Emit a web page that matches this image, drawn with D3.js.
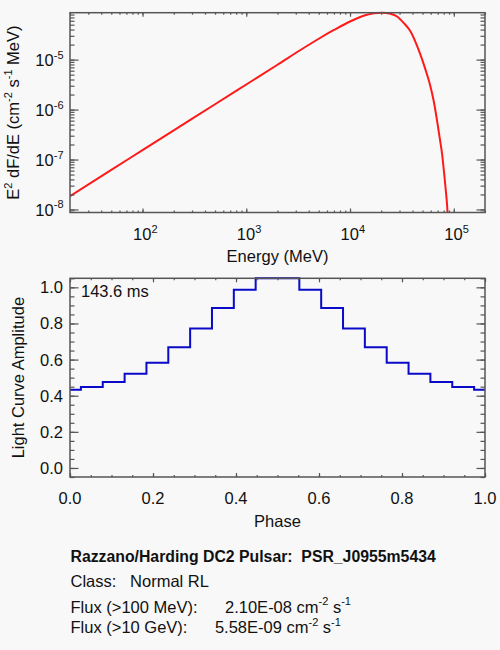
<!DOCTYPE html>
<html>
<meta charset="utf-8">
<head>
    <title>PSR_J0955m5434</title>
    <style>
    body {
        margin: 0;
        background: #f8f8f8;
    }
    svg {
        display: block;
        font-family: "Liberation Sans", Arial, Helvetica, sans-serif;
    }
    text {
        fill: #111;
    }
    </style>
<script src="https://d3js.org/d3.v7.min.js"></script>
</head>
<body>
<svg></svg>
<script>

// spectrum
var energy = [20, 50, 100, 200, 500, 1000, 2000, 3300, 5000, 7000, 10000, 14600, 17000, 20400,
              24000, 28400, 33000, 38200, 43000, 47700, 53000, 59600, 64000, 69200, 73000, 77300,
              81000, 84500, 86300, 88000];
var flux = [1.85e-8, 6.2e-8, 1.54e-7, 3.83e-7, 1.28e-6, 3.18e-6, 7.9e-6, 1.54e-5, 2.62e-5, 3.92e-5,
            5.8e-5, 7.9e-5, 8.5e-5, 8.7e-5, 8.4e-5, 7.3e-5, 5.4e-5, 3.7e-5, 2.2e-5, 1.26e-5,
            6.6e-6, 2.9e-6, 1.5e-6, 5.8e-7, 2.8e-7, 1.26e-7, 5e-8, 2e-8, 1.2e-8, 6e-9];

// light curve, bin centres and amplitudes
var phase = [0, 0.0526, 0.1053, 0.1579, 0.2105, 0.2632, 0.3158, 0.3684, 0.4211, 0.4737,
             0.5263, 0.5789, 0.6316, 0.6842, 0.7368, 0.7895, 0.8421, 0.8947, 0.9474, 1.0];
var amplitude = [0.433, 0.448, 0.476, 0.522, 0.583, 0.668, 0.772, 0.885, 0.987, 1.05,
                 1.05, 0.987, 0.885, 0.772, 0.668, 0.583, 0.522, 0.476, 0.448, 0.433];

var energyTicks = [100, 1000, 10000, 100000];
var fluxTicks = [1e-8, 1e-7, 1e-6, 1e-5];
var phaseTicks = [0, 0.2, 0.4, 0.6, 0.8, 1.0];
var ampTicks = [0, 0.2, 0.4, 0.6, 0.8, 1.0];

var infoLines = [
    "Class:   Normal RL",
    "Flux (>100 MeV):      2.10E-08 cm|-2| s|-1",
    "Flux (>10 GeV):      5.58E-09 cm|-2| s|-1"
];
var infoTitle = "Razzano/Harding DC2 Pulsar:  PSR_J0955m5434";

var width = 500, height = 650;
var axisColor = "#555";
var fs = 16.5, sup = 11;

var svg = d3.select("svg")
    .attr("width", width)
    .attr("height", height);

// draws inward ticks on one side of a frame
function side(g, axisFn, scale, majors, minors, majLen, minLen) {
    g.call(axisFn(scale).tickValues(minors).tickSize(-minLen).tickSizeOuter(0).tickFormat(""));
    g.call(g2 => g2.select(".domain").remove());
    var gm = g.append("g");
    gm.call(axisFn(scale).tickValues(majors).tickSize(-majLen).tickSizeOuter(0).tickFormat(""));
    gm.select(".domain").remove();
    g.selectAll("line").attr("stroke", axisColor).attr("stroke-width", 1.2);
}

function frame(x, y, left, top, right, bottom, xMaj, xMin, yMaj, yMin) {
    side(svg.append("g").attr("transform", "translate(0," + bottom + ")"), d3.axisBottom, x, xMaj, xMin, 4, 2);
    side(svg.append("g").attr("transform", "translate(0," + top + ")"), d3.axisTop, x, xMaj, xMin, 4, 2);
    side(svg.append("g").attr("transform", "translate(" + left + ",0)"), d3.axisLeft, y, yMaj, yMin, 8.5, 4.5);
    side(svg.append("g").attr("transform", "translate(" + right + ",0)"), d3.axisRight, y, yMaj, yMin, 8.5, 4.5);
    svg.append("rect")
        .attr("x", left).attr("y", top)
        .attr("width", right - left).attr("height", bottom - top)
        .attr("fill", "none")
        .attr("stroke", axisColor)
        .attr("stroke-width", 1.5);
}

//---------- spectrum panel
var L = 70, R = 485, T1 = 12.7, B1 = 212.5;
var x = d3.scaleLog().domain([20, 2e5]).range([L, R]);
var y = d3.scaleLog().domain([8.7e-9, 8.7e-5]).range([B1, T1]);

svg.append("clipPath").attr("id", "clip1")
    .append("rect").attr("x", L).attr("y", T1 - 2).attr("width", R - L).attr("height", B1 - T1 + 2);

svg.append("path")
    .datum(energy.map((e, i) => [e, flux[i]]))
    .attr("clip-path", "url(#clip1)")
    .attr("fill", "none")
    .attr("stroke", "#ff1a1a")
    .attr("stroke-width", 2)
    .attr("d", d3.line()
        .x(d => x(d[0]))
        .y(d => y(d[1]))
        .curve(d3.curveMonotoneX));

frame(x, y, L, T1, R, B1, energyTicks, x.ticks(), fluxTicks, y.ticks());

var xl = svg.append("g").selectAll("text")
    .data(energyTicks)
    .enter().append("text")
    .attr("x", d => x(d) - 9.5)
    .attr("y", B1 + 27.5)
    .attr("font-size", fs);
xl.append("tspan").text("10");
xl.append("tspan").attr("dy", -7.5).attr("font-size", sup).text(d => Math.round(Math.log10(d)));

var yl = svg.append("g").selectAll("text")
    .data(fluxTicks)
    .enter().append("text")
    .attr("x", 63.5)
    .attr("y", d => y(d) + 6.5)
    .attr("text-anchor", "end")
    .attr("font-size", fs);
yl.append("tspan").text("10");
yl.append("tspan").attr("dy", -7.5).attr("font-size", sup).text(d => Math.round(Math.log10(d)));

svg.append("text")
    .attr("x", (L + R) / 2)
    .attr("y", 261.5)
    .attr("text-anchor", "middle")
    .attr("font-size", fs)
    .text("Energy (MeV)");

var yt = svg.append("text")
    .attr("transform", "translate(19," + ((T1 + B1) / 2) + ") rotate(-90)")
    .attr("text-anchor", "middle")
    .attr("font-size", fs);
yt.append("tspan").text("E");
yt.append("tspan").attr("dy", -7.5).attr("font-size", sup).text("2");
yt.append("tspan").attr("dy", 7.5).text(" dF/dE (cm");
yt.append("tspan").attr("dy", -7.5).attr("font-size", sup).text("-2");
yt.append("tspan").attr("dy", 7.5).text(" s");
yt.append("tspan").attr("dy", -7.5).attr("font-size", sup).text("-1");
yt.append("tspan").attr("dy", 7.5).text(" MeV)");

//---------- light curve panel
var T2 = 278.3, B2 = 477;
var px = d3.scaleLinear().domain([0, 1]).range([L, R]);
var py = d3.scaleLinear().domain([-0.05, 1.05]).range([B2, T2]);

svg.append("path")
    .datum(phase.map((p, i) => [p, amplitude[i]]))
    .attr("fill", "none")
    .attr("stroke", "#0a0ac8")
    .attr("stroke-width", 2)
    .attr("d", d3.line()
        .x(d => px(d[0]))
        .y(d => py(d[1]))
        .curve(d3.curveStep));

frame(px, py, L, T2, R, B2, phaseTicks, d3.range(0, 1.001, 0.05), ampTicks, d3.range(-0.05, 1.06, 0.05));

svg.append("g").selectAll("text")
    .data(phaseTicks)
    .enter().append("text")
    .attr("x", d => px(d))
    .attr("y", B2 + 27)
    .attr("text-anchor", "middle")
    .attr("font-size", fs)
    .text(d3.format(".1f"));

svg.append("g").selectAll("text")
    .data(ampTicks)
    .enter().append("text")
    .attr("x", 63)
    .attr("y", d => py(d) + 6)
    .attr("text-anchor", "end")
    .attr("font-size", fs)
    .text(d3.format(".1f"));

svg.append("text")
    .attr("x", (L + R) / 2)
    .attr("y", 526.5)
    .attr("text-anchor", "middle")
    .attr("font-size", fs)
    .text("Phase");

svg.append("text")
    .attr("transform", "translate(23.5," + ((T2 + B2) / 2) + ") rotate(-90)")
    .attr("text-anchor", "middle")
    .attr("font-size", fs)
    .text("Light Curve Amplitude");

svg.append("text")
    .attr("x", 81)
    .attr("y", 297.3)
    .attr("font-size", fs)
    .text("143.6 ms");

//---------- info block
svg.append("text")
    .attr("x", 70.5)
    .attr("y", 562.3)
    .attr("font-size", 15.8)
    .attr("font-weight", "bold")
    .style("white-space", "pre")
    .text(infoTitle);

var lineY = [586.7, 612.7, 633.3];
infoLines.forEach((s, i) => {
    var t = svg.append("text")
        .attr("x", 70.5)
        .attr("y", lineY[i])
        .attr("font-size", fs)
        .style("white-space", "pre");
    // "|" marks superscript pieces
    s.split("|").forEach((part, j) => {
        if (j % 2 == 1) {
            t.append("tspan").attr("dy", -7.5).attr("font-size", sup).text(part);
        } else {
            t.append("tspan").attr("dy", j > 0 ? 7.5 : 0).text(part);
        }
    });
});

</script>
</body>
</html>
